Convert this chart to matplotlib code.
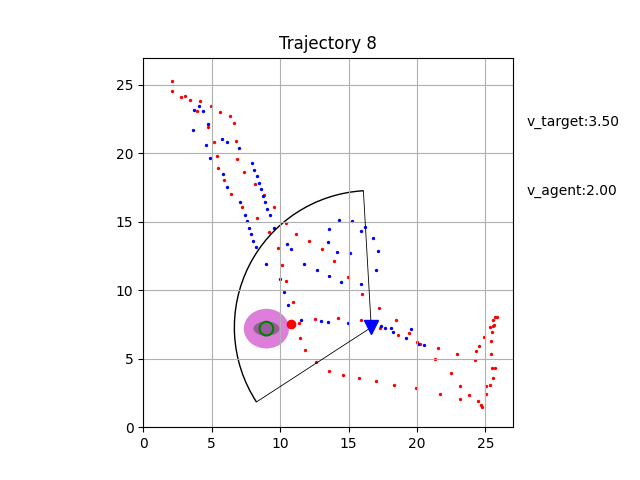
import numpy as np
import matplotlib
matplotlib.use("Agg")
import matplotlib.pyplot as plt
from matplotlib.patches import Ellipse, Circle, Arc

# target positions (red dots)
target_x = [2.07, 2.07, 2.73, 3.02, 3.45, 4.18, 3.96, 4.92, 5.64, 6.37, 6.66, 4.77, 5.20, 6.81,
            5.42, 6.88, 5.50, 7.39, 5.93, 8.20, 8.85, 6.45, 9.58, 7.25, 8.34, 10.46, 9.22, 11.19,
            12.14, 9.88, 13.09, 13.96, 10.17, 14.98, 10.46, 16.01, 10.97, 17.24, 12.58, 14.26,
            15.93, 11.41, 18.49, 17.32, 18.64, 19.43, 20.02, 11.48, 11.85, 12.65, 13.60, 14.62,
            15.79, 17.03, 18.34, 19.95, 20.24, 21.55, 21.34, 22.94, 22.45, 23.17, 21.70, 23.17,
            23.82, 24.47, 24.69, 24.77, 25.04, 25.04, 25.35, 25.57, 25.50, 25.72, 24.26, 25.42,
            24.33, 24.55, 25.42, 24.91, 25.50, 25.35, 25.57, 25.64, 25.57, 25.72, 25.86]
target_y = [25.29, 24.56, 24.12, 24.19, 23.90, 23.82, 23.09, 23.46, 23.02, 22.73, 22.22, 21.92,
            20.83, 20.90, 19.80, 19.58, 18.92, 18.63, 18.05, 17.75, 16.94, 17.02, 16.07, 16.07,
            15.27, 14.90, 14.24, 14.10, 13.58, 13.11, 13.00, 12.12, 11.83, 10.95, 10.66, 9.71,
            9.12, 8.68, 7.88, 7.95, 7.81, 7.59, 7.81, 7.22, 6.71, 6.86, 6.20, 6.49, 5.61, 4.73,
            4.07, 3.78, 3.56, 3.34, 3.05, 2.83, 6.05, 5.76, 4.95, 5.32, 3.93, 2.98, 2.39, 2.03,
            2.32, 1.95, 1.59, 1.51, 2.39, 2.98, 3.05, 3.56, 4.29, 4.36, 4.88, 5.32, 5.54, 5.90,
            6.27, 6.56, 6.93, 7.29, 7.37, 7.44, 7.81, 8.05, 8.05]

# agent positions (blue dots)
agent_x = [4.11, 3.74, 4.40, 4.77, 3.67, 4.62, 5.72, 6.15, 7.03, 4.91, 7.98, 8.13, 8.34, 5.86,
           8.49, 6.15, 8.63, 8.78, 8.93, 7.10, 9.07, 7.47, 9.29, 7.61, 7.76, 7.90, 9.58, 8.05,
           8.27, 10.53, 13.60, 13.53, 14.33, 15.28, 15.93, 16.23, 10.83, 16.81, 14.18, 15.13,
           17.17, 11.77, 12.72, 17.03, 13.60, 14.48, 15.93, 9.00, 10.02, 10.31, 10.61, 11.55,
           13.01, 13.53, 14.99, 17.39, 17.69, 18.12, 18.27, 19.22, 19.58, 20.10, 20.53]
agent_y = [23.46, 23.17, 23.09, 22.17, 21.70, 20.61, 21.05, 20.83, 20.39, 19.66, 19.29, 18.78,
           18.34, 18.49, 17.83, 17.54, 17.39, 16.88, 16.44, 16.44, 15.93, 15.49, 15.49, 15.05,
           14.54, 14.10, 14.54, 13.58, 13.15, 13.37, 14.46, 13.53, 15.12, 15.05, 14.32, 14.61,
           13.00, 13.80, 12.78, 12.71, 12.85, 11.90, 11.46, 11.46, 11.02, 10.59, 10.44, 11.90,
           10.80, 9.85, 8.90, 7.81, 7.73, 7.66, 7.59, 7.37, 7.22, 7.22, 6.93, 6.49, 7.15, 6.05,
           5.98]

agent_pos = (16.66, 7.29)
target_pos = (10.83, 7.51)
belief_center = (9.0, 7.2)
fov_radius = 10.0
fov_angles = (93.3, 213.0)

fig, ax = plt.subplots(figsize=(6.4, 4.8), dpi=100)

ax.add_patch(Ellipse(belief_center, 3.3, 2.9, color='orchid', alpha=0.9, lw=0))
ax.add_patch(Ellipse(belief_center, 1.9, 1.05, color=(0.6, 0.37, 0.6), lw=0))
ax.add_patch(Circle(belief_center, 0.5, fill=False, ec='green', lw=1.5))

ax.scatter(target_x, target_y, s=2, c='red')
ax.scatter(agent_x, agent_y, s=2, c='blue')

# field of view
ax.add_patch(Arc(agent_pos, 2 * fov_radius, 2 * fov_radius, theta1=fov_angles[0],
                 theta2=fov_angles[1], color='black', lw=1))
for a in fov_angles:
    ex = agent_pos[0] + fov_radius * np.cos(np.radians(a))
    ey = agent_pos[1] + fov_radius * np.sin(np.radians(a))
    ax.plot([agent_pos[0], ex], [agent_pos[1], ey], color='black', lw=0.6)

ax.plot(*agent_pos, marker='v', color='blue', ms=10)
ax.plot(*target_pos, marker='o', color='red', ms=6)

ax.text(28, 22, 'v_target:3.50')
ax.text(28, 17, 'v_agent:2.00')

ax.set_xlim(0, 27)
ax.set_ylim(0, 27)
ax.set_aspect('equal')
ax.grid(True)
ax.set_title('Trajectory 8')

fig.savefig('out.png')
